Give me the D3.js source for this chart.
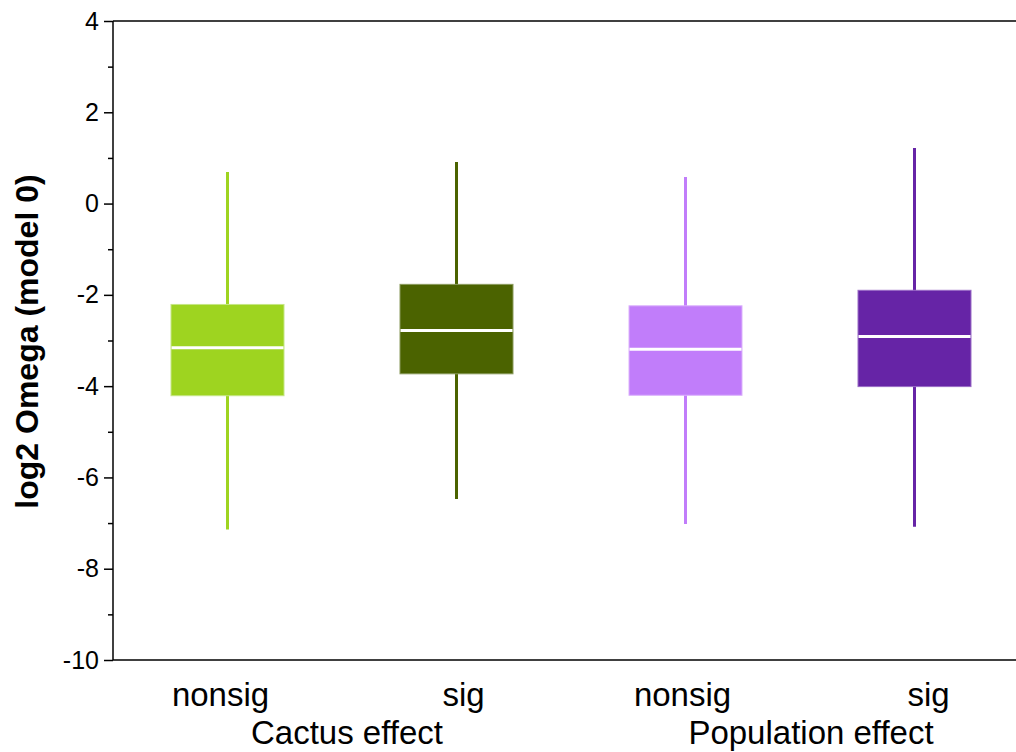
<!DOCTYPE html>
<html>
<head>
<meta charset="utf-8">
<script src="https://cdn.jsdelivr.net/npm/d3@7"></script>
<style>
  html, body { margin: 0; padding: 0; background: #fff; overflow: hidden; }
  svg { display: block; }
  text { font-family: Arial, "Liberation Sans", Helvetica, sans-serif; }
</style>
</head>
<body>
<svg id="chart" width="1016" height="752"></svg>
<script>
// ---- data ----
const categories = ["Cactus nonsig", "Cactus sig", "Population nonsig", "Population sig"];
const catLabels = ["nonsig", "sig", "nonsig", "sig"];
const groups = ["Cactus effect", "Population effect"];
const whiskerLow = [-7.14, -6.47, -7.02, -7.08];
const q1 = [-4.21, -3.73, -4.20, -4.01];
const median = [-3.16, -2.78, -3.19, -2.91];
const q3 = [-2.21, -1.77, -2.24, -1.90];
const whiskerHigh = [0.69, 0.91, 0.58, 1.22];
const colors = ["#9ed420", "#4b6300", "#c17dfa", "#6624a6"];
const edgeColors = ["#c5e685", "#8a9a5c", "#dbb2fc", "#9a6cc6"];
const yMajorTicks = [-10, -8, -6, -4, -2, 0, 2, 4];
const yMinorTicks = [-9, -7, -5, -3, -1, 1, 3];

// ---- layout ----
const svg = d3.select("#chart");
const mLeft = 113, mTop = 21, mBottom = 660;
const bandW = 229;
const x = d3.scaleBand().domain(categories).range([mLeft, mLeft + bandW * 4]).paddingInner(0).paddingOuter(0);
const y = d3.scaleLinear().domain([-10, 4]).range([mBottom, mTop]);
const boxW = 113;

const g = svg.append("g");
categories.forEach((c, i) => {
  const cx = x(c) + x.bandwidth() / 2;
  g.append("line")
    .attr("x1", cx).attr("x2", cx)
    .attr("y1", y(whiskerLow[i])).attr("y2", y(whiskerHigh[i]))
    .attr("stroke", colors[i]).attr("stroke-width", 3);
  g.append("rect")
    .attr("x", cx - boxW / 2).attr("width", boxW)
    .attr("y", y(q3[i])).attr("height", y(q1[i]) - y(q3[i]))
    .attr("fill", colors[i])
    .attr("stroke", edgeColors[i]).attr("stroke-width", 1);
  g.append("line")
    .attr("x1", cx - boxW / 2 + 0.5).attr("x2", cx + boxW / 2 - 0.5)
    .attr("y1", y(median[i])).attr("y2", y(median[i]))
    .attr("stroke", "#ffffff").attr("stroke-width", 3);
});

// axes frame: left, top, bottom
const axisG = svg.append("g");
axisG.append("line").attr("x1", mLeft).attr("x2", mLeft).attr("y1", mTop).attr("y2", mBottom)
  .attr("stroke", "#000").attr("stroke-width", 1.5);
axisG.append("line").attr("x1", mLeft).attr("x2", 1016).attr("y1", mTop).attr("y2", mTop)
  .attr("stroke", "#000").attr("stroke-width", 1.5);
axisG.append("line").attr("x1", mLeft).attr("x2", 1016).attr("y1", mBottom).attr("y2", mBottom)
  .attr("stroke", "#000").attr("stroke-width", 1.5);

// y axis via d3
const yAxis = d3.axisLeft(y).tickValues(yMajorTicks).tickSize(9).tickPadding(5)
  .tickFormat(d => d < 0 ? "-" + Math.abs(d) : String(d));
const ya = svg.append("g").attr("transform", `translate(${mLeft},0)`).call(yAxis);
ya.select(".domain").remove();
ya.selectAll(".tick line").attr("stroke", "#000").attr("stroke-width", 1.5);
ya.selectAll(".tick text").attr("font-size", 25).attr("fill", "#000")
  .attr("font-family", "Arial, 'Liberation Sans', sans-serif");

const yMinor = d3.axisLeft(y).tickValues(yMinorTicks).tickSize(5).tickFormat("");
const ym = svg.append("g").attr("transform", `translate(${mLeft},0)`).call(yMinor);
ym.select(".domain").remove();
ym.selectAll(".tick line").attr("stroke", "#000").attr("stroke-width", 1.5);

// category labels
const labelDx = [-7, 7, -3, 14];
svg.append("g").selectAll("text").data(categories).join("text")
  .attr("x", (d, i) => x(d) + x.bandwidth() / 2 + labelDx[i])
  .attr("y", 706)
  .attr("text-anchor", "middle")
  .attr("font-size", 33)
  .attr("fill", "#000")
  .text((d, i) => catLabels[i]);

// group labels
const groupDx = [5, 11];
svg.append("g").selectAll("text").data(groups).join("text")
  .attr("x", (d, i) => {
    const a = x(categories[i * 2]) + x.bandwidth() / 2;
    const b = x(categories[i * 2 + 1]) + x.bandwidth() / 2;
    return (a + b) / 2 + groupDx[i];
  })
  .attr("y", 744)
  .attr("text-anchor", "middle")
  .attr("font-size", 33)
  .attr("fill", "#000")
  .text(d => d);

// y axis title
svg.append("text")
  .attr("transform", `translate(38, ${(mTop + mBottom) / 2 + 1}) rotate(-90)`)
  .attr("text-anchor", "middle")
  .attr("font-size", 32)
  .attr("font-weight", "bold")
  .attr("fill", "#000")
  .text("log2 Omega (model 0)");
</script>
</body>
</html>
